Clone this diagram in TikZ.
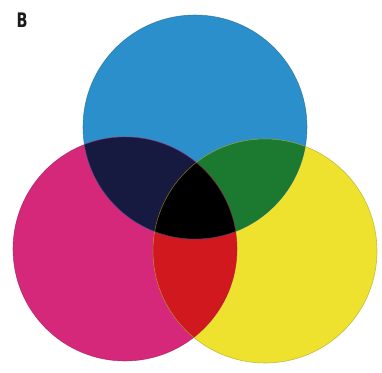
\documentclass[tikz,border=0pt]{standalone}
\usepackage{fontspec}
\setmainfont{Liberation Sans}
\newfontfamily\lblfont{DejaVu Sans Condensed Bold}
\definecolor{cyanC}{HTML}{2B8FCB}
\definecolor{magC}{HTML}{D6287A}
\definecolor{yelC}{HTML}{EEE22E}
\definecolor{navyC}{HTML}{161A40}
\definecolor{greenC}{HTML}{1B7A30}
\definecolor{redC}{HTML}{D0181E}
\tikzset{
  edge/.style={line width=0.6pt, draw opacity=0.6},
  lbl/.style={inner sep=0pt, text=black!90}
}
\begin{document}
\begin{tikzpicture}[x=1pt,y=-1pt]
\useasboundingbox (0,0) rectangle (382,372);
\fill[white] (0,0) rectangle (382,372);
\coordinate (C) at (195,127);
\coordinate (M) at (125,249);
\coordinate (Y) at (265,251);
\def\rr{112}
% base circles
\fill[cyanC] (C) circle (\rr);
\fill[magC] (M) circle (\rr);
\fill[yelC] (Y) circle (\rr);
% pairwise overlaps
\begin{scope}
  \clip (C) circle (\rr);
  \fill[navyC] (M) circle (\rr);
  \fill[greenC] (Y) circle (\rr);
\end{scope}
\begin{scope}
  \clip (M) circle (\rr);
  \fill[redC] (Y) circle (\rr);
\end{scope}
\begin{scope}
  \clip (C) circle (\rr);
  \clip (M) circle (\rr);
  \fill[black] (Y) circle (\rr);
\end{scope}
% outlines
\draw[edge, draw=cyanC!70!black] (C) circle (\rr);
\draw[edge, draw=magC!70!black] (M) circle (\rr);
\draw[edge, draw=yelC!70!black] (Y) circle (\rr);
\node[lbl] (B) at (22,20.5) {\scalebox{0.8}[1]{\fontsize{20}{20}\selectfont\lblfont B}};
\end{tikzpicture}
\end{document}
